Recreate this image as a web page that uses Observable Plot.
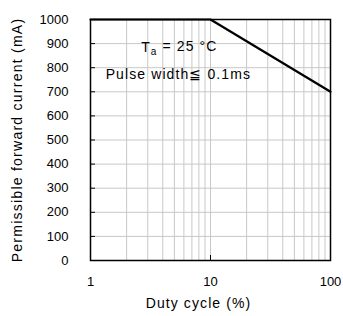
<!DOCTYPE html>
<html>
<head>
<meta charset="utf-8">
<script src="https://cdn.jsdelivr.net/npm/d3@7"></script>
<script src="https://cdn.jsdelivr.net/npm/@observablehq/plot@0.6"></script>
<style>
  html, body { margin: 0; padding: 0; background: #fff; }
  #chart svg { font-family: "Liberation Sans", Arial, sans-serif; }
</style>
</head>
<body>
<div id="chart"></div>
<script>
// Data
const dutyCycle = [1, 10, 100];          // %
const forwardCurrent = [1000, 1000, 700]; // mA
const xTicks = [1, 10, 100];
const xGrid = [2, 3, 4, 5, 6, 7, 8, 9, 10, 20, 30, 40, 50, 60, 70, 80, 90];
const yTicks = [0, 100, 200, 300, 400, 500, 600, 700, 800, 900, 1000];
const annotations = [
  {x: 5.5, y: 884, label: "Ta = 25 °C"},
  {x: 5.4, y: 772, label: "Pulse width\u2266 0.1ms"}
];
const xLabel = "Duty cycle (%)";
const yLabel = "Permissible forward current (mA)";

const data = dutyCycle.map((d, i) => ({x: d, y: forwardCurrent[i]}));

const chart = Plot.plot({
  width: 343,
  height: 316,
  marginLeft: 90,
  marginRight: 13,
  marginTop: 19,
  marginBottom: 56,
  style: {fontSize: "13px", fontFamily: "Liberation Sans, Arial, sans-serif", background: "#fff"},
  x: {type: "log", domain: [1, 100]},
  y: {domain: [0, 1000]},
  marks: [
    Plot.ruleX(xGrid, {stroke: "#c8c8c8", strokeWidth: 1}),
    Plot.ruleY(yTicks, {stroke: "#c8c8c8", strokeWidth: 1}),
    Plot.axisY(yTicks, {anchor: "left", tickSize: 0, tickPadding: 22, tickFormat: d => String(d), label: null, fontSize: 13, fill: "#000"}),
    Plot.axisY(yTicks, {anchor: "left", tickSize: -5, tickFormat: () => "", label: null, stroke: "#000"}),
    Plot.axisX(xTicks, {anchor: "bottom", tickSize: 0, tickPadding: 16, tickFormat: d => String(d), label: null, fontSize: 13, fill: "#000"}),
    Plot.axisX([10], {anchor: "bottom", tickSize: -5, tickFormat: () => "", label: null, stroke: "#000"}),
    Plot.frame({stroke: "#000", strokeWidth: 1.5}),
    Plot.line(data, {x: "x", y: "y", stroke: "#000", strokeWidth: 2.2}),
    Plot.text(annotations, {x: "x", y: "y", text: "label", fontSize: 14, fill: "#000", textAnchor: "middle", className: "spaced"}),
    Plot.text([xLabel], {frameAnchor: "bottom", dy: 47, dx: -12, text: d => d, fontSize: 14, fill: "#000", textAnchor: "middle", className: "spaced"}),
    Plot.text([yLabel], {frameAnchor: "left", dx: -73, rotate: -90, text: d => d, fontSize: 14, fill: "#000", textAnchor: "middle", className: "spacedY"})
  ]
});

d3.select(chart).selectAll(".spaced text").attr("letter-spacing", "1.1px");
d3.select(chart).selectAll(".spacedY text").attr("letter-spacing", "1.25px");

// subscript "a" in Ta
d3.select(chart).selectAll("text").each(function() {
  const t = d3.select(this);
  if (t.text() === "Ta = 25 °C") {
    t.text(null);
    t.append("tspan").text("T");
    t.append("tspan").attr("font-size", 10).attr("dy", "0.3em").text("a");
    t.append("tspan").attr("dy", "-0.3em").text(" = 25 °C");
  }
});

document.getElementById("chart").appendChild(chart);
</script>
</body>
</html>
